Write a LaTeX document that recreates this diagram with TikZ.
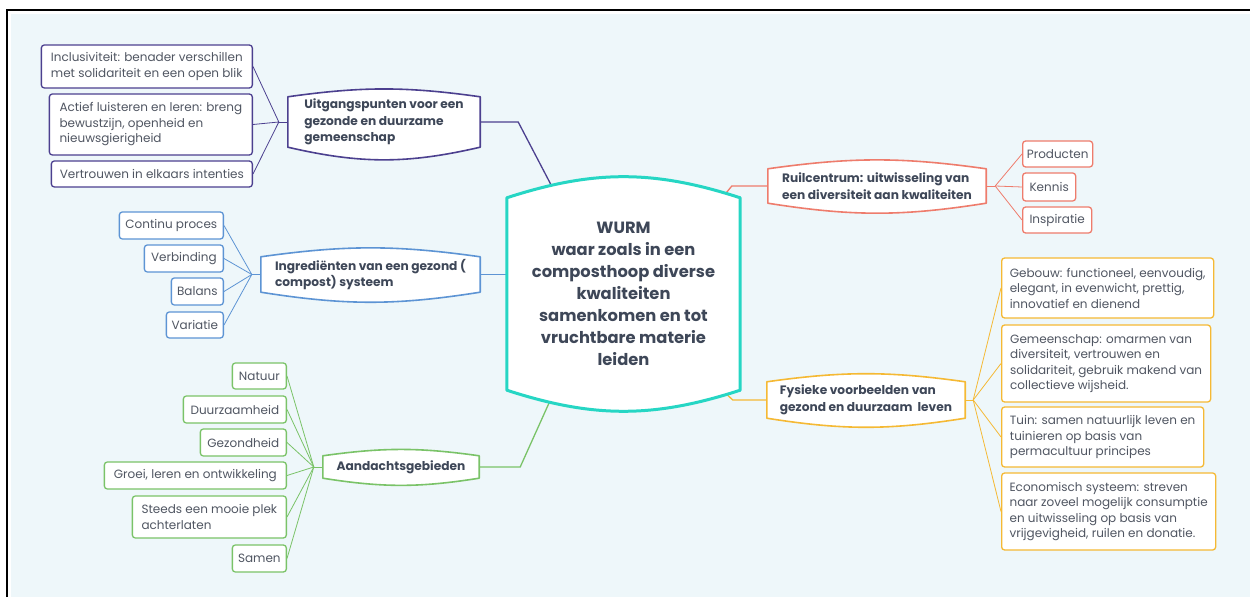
\documentclass[tikz,border=0pt]{standalone}
\usepackage{fontspec}
\setmainfont{Poppins}

\definecolor{wurmteal}{RGB}{38,214,196}
\definecolor{wpurple}{RGB}{76,64,143}
\definecolor{wblue}{RGB}{93,148,212}
\definecolor{wgreen}{RGB}{122,195,104}
\definecolor{wred}{RGB}{238,124,108}
\definecolor{wamber}{RGB}{245,185,52}
\definecolor{wbg}{RGB}{238,247,250}
\definecolor{wtext}{RGB}{62,71,88}
\definecolor{wgrey}{RGB}{80,86,98}

\pgfdeclarelayer{back}
\pgfdeclarelayer{wires}
\pgfdeclarelayer{shapes}
\pgfsetlayers{back,wires,shapes,main}

\tikzset{
  leaf/.style={draw=#1, fill=white, line width=1.3pt, rounded corners=3pt,
    inner sep=0pt, align=left, text=wgrey, font=\fontsize{12}{15.5}\selectfont},
  branch/.style={inner sep=0pt, align=left, text=wtext,
    font=\bfseries\fontsize{12.2}{16.5}\selectfont},
  hub/.style={inner sep=0pt, align=center, text=wtext,
    font=\bfseries\fontsize{16.3}{22}\selectfont,
    minimum width=233pt, minimum height=192pt},
  wire/.style={draw=#1, line width=0.8pt},
  limb/.style={draw=#1, line width=1.3pt},
}

\begin{document}
\begin{tikzpicture}[x=1pt,y=1pt]
\useasboundingbox (0,0) rectangle (1250,597);
\begin{pgfonlayer}{back}
\fill[wbg] (11,0) rectangle (1250,583);
\draw[line width=1.2pt] (7,0) -- (7,587) -- (1250,587);
\end{pgfonlayer}

% centre
\node[hub] (wurm) at (623.5,303) {WURM\\waar zoals in een\\composthoop diverse\\kwaliteiten\\samenkomen en tot\\vruchtbare materie\\leiden};

% main branches
\node[branch, minimum width=192pt, minimum height=50pt] (basis) at (384,475) {Uitgangspunten voor een\\gezonde en duurzame\\gemeenschap};
\node[branch, minimum width=219pt, minimum height=35pt] (ingred) at (370.5,322.5) {Ingrediënten van een gezond (\\compost) systeem};
\node[branch, minimum width=156pt, minimum height=22pt] (aandacht) at (401,130) {Aandachtsgebieden};
\node[branch, minimum width=218pt, minimum height=34pt] (ruil) at (877,411) {Ruilcentrum: uitwisseling van\\een diversiteit aan kwaliteiten};
\node[branch, minimum width=198pt, minimum height=36pt] (fysiek) at (866,197) {Fysieke voorbeelden van\\gezond en duurzaam\ \ leven};

% leaves, left side
\node[leaf=wpurple, anchor=east, minimum width=211pt, minimum height=43pt] (incl) at (253,530.5) {Inclusiviteit: benader verschillen\\met solidariteit en een open blik};
\node[leaf=wpurple, anchor=east, minimum width=203pt, minimum height=61pt] (actief) at (253,472.5) {Actief luisteren en leren: breng\\bewustzijn, openheid en\\nieuwsgierigheid};
\node[leaf=wpurple, anchor=east, minimum width=201pt, minimum height=26pt] (vertr) at (253,423) {Vertrouwen in elkaars intenties};

\node[leaf=wblue, anchor=east, minimum width=104pt, minimum height=27pt] (cont) at (224,371.5) {Continu proces};
\node[leaf=wblue, anchor=east, minimum width=79pt, minimum height=27pt] (verb) at (224,338.5) {Verbinding};
\node[leaf=wblue, anchor=east, minimum width=52pt, minimum height=27pt] (bal) at (224,305.5) {Balans};
\node[leaf=wblue, anchor=east, minimum width=57pt, minimum height=26pt] (var) at (224,272) {Variatie};

\node[leaf=wgreen, anchor=east, minimum width=54pt, minimum height=26pt] (nat) at (287,221) {Natuur};
\node[leaf=wgreen, anchor=east, minimum width=103pt, minimum height=27pt] (duur) at (287,187.5) {Duurzaamheid};
\node[leaf=wgreen, anchor=east, minimum width=86pt, minimum height=27pt] (gez) at (287,154.5) {Gezondheid};
\node[leaf=wgreen, anchor=east, minimum width=182pt, minimum height=27pt] (groei) at (287,121.5) {Groei, leren en ontwikkeling};
\node[leaf=wgreen, anchor=east, minimum width=154pt, minimum height=42pt] (steeds) at (287,80) {Steeds een mooie plek\\achterlaten};
\node[leaf=wgreen, anchor=east, minimum width=54pt, minimum height=27pt] (samen) at (287,38.5) {Samen};

% leaves, right side
\node[leaf=wred, anchor=west, minimum width=70pt, minimum height=26pt] (prod) at (1022,443) {Producten};
\node[leaf=wred, anchor=west, minimum width=53pt, minimum height=28pt] (kennis) at (1022,410) {Kennis};
\node[leaf=wred, anchor=west, minimum width=69pt, minimum height=26pt] (insp) at (1022,377) {Inspiratie};

\node[leaf=wamber, anchor=west, minimum width=212pt, minimum height=60pt] (gebouw) at (1001,309) {Gebouw: functioneel, eenvoudig,\\elegant, in evenwicht, prettig,\\innovatief en dienend};
\node[leaf=wamber, anchor=west, minimum width=209pt, minimum height=77pt] (gemeen) at (1001,233.5) {Gemeenschap: omarmen van\\diversiteit, vertrouwen en\\solidariteit, gebruik makend van\\collectieve wijsheid.};
\node[leaf=wamber, anchor=west, minimum width=202pt, minimum height=60pt] (tuin) at (1001,160) {Tuin: samen natuurlijk leven en\\tuinieren op basis van\\permacultuur principes};
\node[leaf=wamber, anchor=west, minimum width=214pt, minimum height=77pt] (econ) at (1001,85.5) {Economisch systeem: streven\\naar zoveel mogelijk consumptie\\en uitwisseling op basis van\\vrijgevigheid, ruilen en donatie.};

% connectors
\begin{pgfonlayer}{wires}
\coordinate (jbasis) at ([xshift=-9pt]basis.west);
\coordinate (jingred) at ([xshift=-9pt]ingred.west);
\coordinate (jaandacht) at ([xshift=-9pt]aandacht.west);
\coordinate (jruil) at ([xshift=9pt]ruil.east);
\coordinate (jfysiek) at ([xshift=8pt]fysiek.east);
\foreach \n in {incl,actief,vertr} \draw[wire=wpurple] (\n.east) -- (jbasis);
\foreach \n in {cont,verb,bal,var} \draw[wire=wblue] (\n.east) -- (jingred);
\foreach \n in {nat,duur,gez,groei,steeds,samen} \draw[wire=wgreen] (\n.east) -- (jaandacht);
\foreach \n in {prod,kennis,insp} \draw[wire=wred] (\n.west) -- (jruil);
\foreach \n in {gebouw,gemeen,tuin,econ} \draw[wire=wamber] (\n.west) -- (jfysiek);
\draw[wire=wpurple] (jbasis) -- (basis.west);
\draw[wire=wblue] (jingred) -- (ingred.west);
\draw[wire=wgreen] (jaandacht) -- (aandacht.west);
\draw[wire=wred] (jruil) -- (ruil.east);
\draw[wire=wamber] (jfysiek) -- (fysiek.east);

\draw[limb=wpurple] (basis.east) -- ++(38,0) -- ([xshift=51pt]wurm.north west);
\draw[limb=wblue] (ingred.east) -- (ingred.east -| wurm.center);
\draw[limb=wgreen] (aandacht.east) -- ++(41,0) -- ([xshift=48pt]wurm.south west);
\draw[limb=wred] (ruil.west) -- ++(-36,0) -- ([xshift=-18pt]wurm.north east);
\draw[limb=wamber] (fysiek.west) -- ++(-34,0) -- ([xshift=-18pt]wurm.south east);
\end{pgfonlayer}

% bulged outlines
\begin{pgfonlayer}{shapes}
\foreach \n/\c/\t/\b/\w in {basis/wpurple/8/13/1.6, ingred/wblue/8/9/1.6, aandacht/wgreen/8/9/1.6, ruil/wred/8/9/1.6, fysiek/wamber/8/9/1.6, wurm/wurmteal/18/18/3}
  \draw[draw=\c, fill=white, line width=\w pt, line join=round] (\n.south west) -- (\n.north west) to[bend left=\t] (\n.north east) -- (\n.south east) to[bend left=\b] (\n.south west) -- cycle;
\end{pgfonlayer}
\end{tikzpicture}
\end{document}
